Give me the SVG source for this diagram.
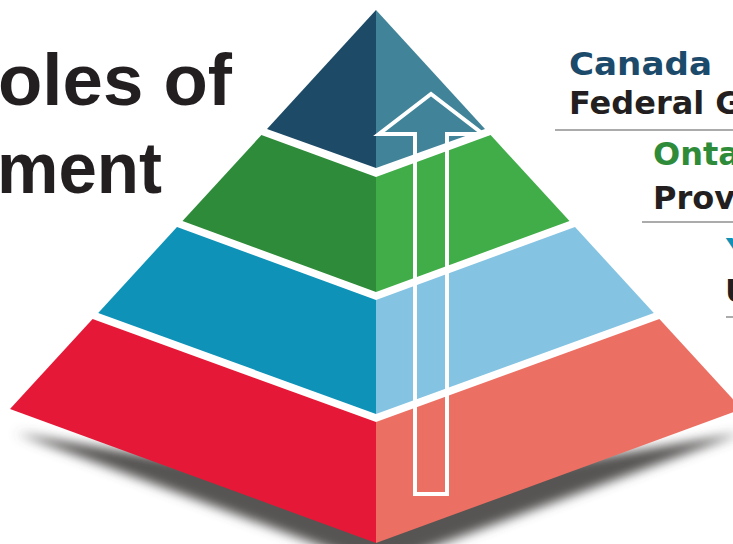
<svg xmlns="http://www.w3.org/2000/svg" width="733" height="544" viewBox="0 0 733 544">
<defs>
<filter id="blur" x="-10%" y="-30%" width="120%" height="160%"><feGaussianBlur stdDeviation="5.5"/></filter>
<style>
.title{font-family:"Liberation Sans",Arial,sans-serif;font-weight:700;font-size:73px;fill:#231f20}
.lab{font-family:"DejaVu Sans",sans-serif;font-weight:700;font-size:32px}
.dark{fill:#231f20}
.rule{stroke:#8f8f8f;stroke-width:1.5}
.arrow{fill:none;stroke:#ffffff;stroke-width:4;stroke-linejoin:miter}
</style>
</defs>
<rect width="733" height="544" fill="#ffffff"/>
<g id="title">
<text class="title" x="-2" y="105" textLength="234" lengthAdjust="spacingAndGlyphs">oles of</text>
<text class="title" x="-3" y="193" textLength="165" lengthAdjust="spacingAndGlyphs">ment</text>
</g>
<g id="shadow">
<polygon points="14,409 376,543 740,409 376,470" transform="translate(2,24)" fill="#575453" filter="url(#blur)"/>
</g>
<g id="tier-federal">
<polygon points="376,10 267,129 376,168" fill="#1d4a66"/>
<polygon points="376,10 485,129 376,168" fill="#418499"/>
</g>
<g id="tier-provincial">
<polygon points="261.4,135 376,177 376,292 182.5,221" fill="#2e8b3a"/>
<polygon points="490.6,135 376,177 376,292 569.5,221" fill="#41ad49"/>
</g>
<g id="tier-upper">
<polygon points="177,227 376,300 376,414 98.2,313" fill="#0e92b7"/>
<polygon points="575,227 376,300 376,414 653.8,313" fill="#84c3e2"/>
</g>
<g id="tier-local">
<polygon points="92.6,319 376,422 376,543 10,409" fill="#e51937"/>
<polygon points="659.4,319 376,422 376,543 742,409" fill="#ec6f63"/>
</g>
<g id="connectors">
<path class="arrow" d="M415,494 V134 H379 L431,94 L483,134 H447 V494 Z"/>
</g>
<g id="label-canada">
<text class="lab" x="569" y="75" fill="#1b4a6b" textLength="143" lengthAdjust="spacingAndGlyphs">Canada</text>
<text class="lab dark" x="569" y="114">Federal G</text>
<line class="rule" x1="555" y1="130" x2="733" y2="130"/>
</g>
<g id="label-ontario">
<text class="lab" x="653" y="165" fill="#2e8b3a">Onta</text>
<text class="lab dark" x="653" y="209">Prov</text>
<line class="rule" x1="642" y1="222" x2="733" y2="222"/>
</g>
<g id="label-local">
<text class="lab" x="726" y="261" fill="#0e92b7">Y</text>
<text class="lab dark" x="725" y="302">U</text>
<line class="rule" x1="726" y1="317" x2="733" y2="317"/>
</g>
</svg>
